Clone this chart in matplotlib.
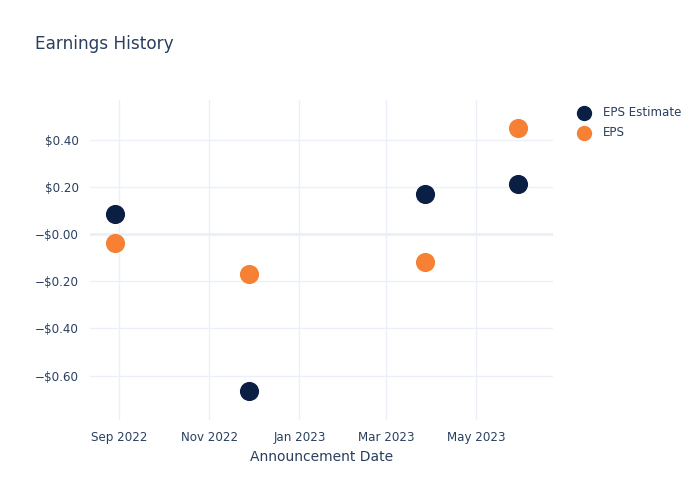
import numpy as np
import matplotlib.pyplot as plt
import matplotlib.dates as mdates
import datetime as dt

# data
dates = ['2022-08-29', '2022-11-28', '2023-03-27', '2023-05-29']
eps_estimate = [0.085, -0.665, 0.17, 0.21]
eps_actual = [-0.04, -0.17, -0.12, 0.45]
y_ticks = [0.4, 0.2, 0.0, -0.2, -0.4, -0.6]
y_labels = ['$0.40', '$0.20', '\u2212$0.00', '\u2212$0.20', '\u2212$0.40', '\u2212$0.60']

text_color = '#2a3f5f'
grid_color = '#ebf0f8'
navy = '#0b1f44'
orange = '#f68135'

x = [dt.datetime.strptime(d, '%Y-%m-%d') for d in dates]

fig = plt.figure(figsize=(7, 5), dpi=100)
ax = fig.add_axes([90 / 700, 0.16, (553 - 90) / 700, 0.64])

ax.scatter(x, eps_estimate, s=190, color=navy, label='EPS Estimate', zorder=3, linewidths=0)
ax.scatter(x, eps_actual, s=190, color=orange, label='EPS', zorder=3, linewidths=0)

ax.set_xlim(dt.datetime(2022, 8, 12), dt.datetime(2023, 6, 22))
ax.set_ylim(-0.788, 0.568)

ax.set_yticks(y_ticks)
ax.set_yticklabels(y_labels)
ax.xaxis.set_major_locator(mdates.MonthLocator(bymonth=[1, 3, 5, 9, 11]))
ax.xaxis.set_major_formatter(mdates.DateFormatter('%b %Y'))

ax.grid(True, color=grid_color, linewidth=1, zorder=0)
ax.axhline(0, color=grid_color, linewidth=2, zorder=1)
for s in ax.spines.values():
    s.set_visible(False)
ax.tick_params(length=0, colors=text_color, labelsize=8.6, pad=8)

ax.set_xlabel('Announcement Date', color=text_color, fontsize=10, labelpad=4)
fig.text(35 / 700, 1 - 44 / 500, 'Earnings History', color=text_color, fontsize=12.2, va='center')

leg = ax.legend(loc='upper left', bbox_to_anchor=(1.0, 1.04), frameon=False,
                fontsize=8.6, handletextpad=0.6, labelspacing=0.6, borderaxespad=1.2,
                markerscale=0.8)
for t in leg.get_texts():
    t.set_color(text_color)

plt.savefig('out.png', dpi=100)
